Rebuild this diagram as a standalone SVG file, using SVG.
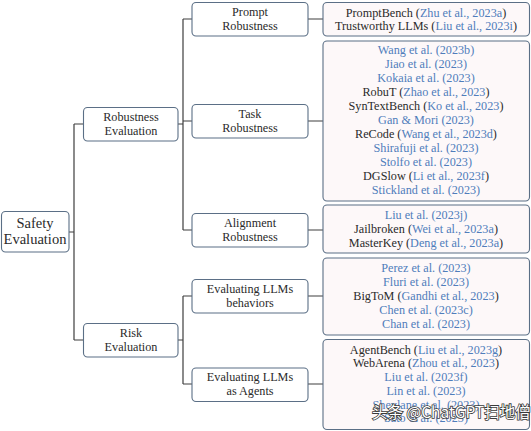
<svg xmlns="http://www.w3.org/2000/svg" width="531" height="431" viewBox="0 0 531 431">
<style>
.n{fill:#ffffff;stroke:#5b6f86;stroke-width:1.1}
.l{fill:#fdf8f9;stroke:#5b6f86;stroke-width:1.1}
text{font-family:'Liberation Serif','Times New Roman',serif;font-size:12.2px;fill:#2a2a2a;text-anchor:middle}
.c{fill:#4f7dbb}
.r{font-size:14.5px}
.e{fill:none;stroke:#3e3e3e;stroke-width:1.2}
.wm{font-family:"Noto Sans CJK SC","Noto Sans",sans-serif;font-size:15.5px;fill:#ffffff;stroke:#3a3a3a;stroke-width:1.6;paint-order:stroke;text-anchor:start}
</style>
<rect width="531" height="431" fill="#ffffff"/>
<g id="connectors">
<path class="e" d="M69,232 H74 M74,124 V340 M74,124 H83 M74,340 H83" stroke="#6a6a6a"/>
<path class="e" d="M178,124 H183 M183,19 V230 M183,19 H192 M183,121 H192 M183,230 H192"/>
<path class="e" d="M178,340 H183 M183,296 V384 M183,296 H192 M183,384 H192"/>
<path class="e" d="M308,19 H323 M308,121 H323 M308,230 H323 M308,296 H323 M308,384 H323"/>
</g>
<g id="root">
<rect class="n" x="1.5" y="211.5" width="67.5" height="40.5" rx="4"/>
<text class="r" x="35" y="227.5">Safety</text>
<text class="r" x="35" y="244">Evaluation</text>
</g>
<g id="robustness">
<rect class="n" x="83.5" y="107.5" width="94.5" height="33.5" rx="4"/>
<text x="131" y="120.5">Robustness</text>
<text x="131" y="134.5">Evaluation</text>
</g>
<g id="risk">
<rect class="n" x="83.5" y="323.5" width="94.5" height="33.5" rx="4"/>
<text x="131" y="336.5">Risk</text>
<text x="131" y="350.5">Evaluation</text>
</g>
<g id="prompt">
<rect class="n" x="192" y="2.5" width="116" height="33.5" rx="4"/>
<text x="250" y="15.5">Prompt</text>
<text x="250" y="29.5">Robustness</text>
</g>
<g id="task">
<rect class="n" x="192" y="104.5" width="116" height="33.5" rx="4"/>
<text x="250" y="117.5">Task</text>
<text x="250" y="131.5">Robustness</text>
</g>
<g id="alignment">
<rect class="n" x="192" y="213.5" width="116" height="33.5" rx="4"/>
<text x="250" y="226.5">Alignment</text>
<text x="250" y="240.5">Robustness</text>
</g>
<g id="behaviors">
<rect class="n" x="192" y="279.5" width="116" height="33.5" rx="4"/>
<text x="250" y="292.5">Evaluating LLMs</text>
<text x="250" y="306.5">behaviors</text>
</g>
<g id="agents">
<rect class="n" x="192" y="368" width="116" height="33.5" rx="4"/>
<text x="250" y="381">Evaluating LLMs</text>
<text x="250" y="395">as Agents</text>
</g>
<g id="leaf-prompt">
<rect class="l" x="323" y="2.5" width="206.5" height="33.5" rx="4"/>
<text x="426" y="16.5">PromptBench (<tspan class="c">Zhu et al., 2023a</tspan>)</text>
<text x="426" y="30">Trustworthy LLMs (<tspan class="c">Liu et al., 2023i</tspan>)</text>
</g>
<g id="leaf-task">
<rect class="l" x="323" y="41" width="206.5" height="160" rx="4"/>
<text x="426" y="54" class="c">Wang et al. (2023b)</text>
<text x="426" y="68" class="c">Jiao et al. (2023)</text>
<text x="426" y="82" class="c">Kokaia et al. (2023)</text>
<text x="426" y="96">RobuT (<tspan class="c">Zhao et al., 2023</tspan>)</text>
<text x="426" y="110">SynTextBench (<tspan class="c">Ko et al., 2023</tspan>)</text>
<text x="426" y="124" class="c">Gan &amp; Mori (2023)</text>
<text x="426" y="138">ReCode (<tspan class="c">Wang et al., 2023d</tspan>)</text>
<text x="426" y="152" class="c">Shirafuji et al. (2023)</text>
<text x="426" y="166" class="c">Stolfo et al. (2023)</text>
<text x="426" y="180">DGSlow (<tspan class="c">Li et al., 2023f</tspan>)</text>
<text x="426" y="194" class="c">Stickland et al. (2023)</text>
</g>
<g id="leaf-alignment">
<rect class="l" x="323" y="205" width="206.5" height="48" rx="4"/>
<text x="426" y="219" class="c">Liu et al. (2023j)</text>
<text x="426" y="233">Jailbroken (<tspan class="c">Wei et al., 2023a</tspan>)</text>
<text x="426" y="247">MasterKey (<tspan class="c">Deng et al., 2023a</tspan>)</text>
</g>
<g id="leaf-behaviors">
<rect class="l" x="323" y="258" width="206.5" height="77" rx="4"/>
<text x="426" y="272" class="c">Perez et al. (2023)</text>
<text x="426" y="286" class="c">Fluri et al. (2023)</text>
<text x="426" y="300">BigToM (<tspan class="c">Gandhi et al., 2023</tspan>)</text>
<text x="426" y="314" class="c">Chen et al. (2023c)</text>
<text x="426" y="328" class="c">Chan et al. (2023)</text>
</g>
<g id="leaf-agents">
<rect class="l" x="323" y="339.5" width="206.5" height="90" rx="4"/>
<text x="426" y="353.5">AgentBench (<tspan class="c">Liu et al., 2023g</tspan>)</text>
<text x="426" y="367">WebArena (<tspan class="c">Zhou et al., 2023</tspan>)</text>
<text x="426" y="381" class="c">Liu et al. (2023f)</text>
<text x="426" y="395" class="c">Lin et al. (2023)</text>
<text x="426" y="408.5" class="c">Shevlane et al. (2023)</text>
<text x="426" y="422" class="c">Sato et al. (2023)</text>
</g>
<text class="wm" x="372" y="418">头条 @ChatGPT扫地僧</text>
</svg>
